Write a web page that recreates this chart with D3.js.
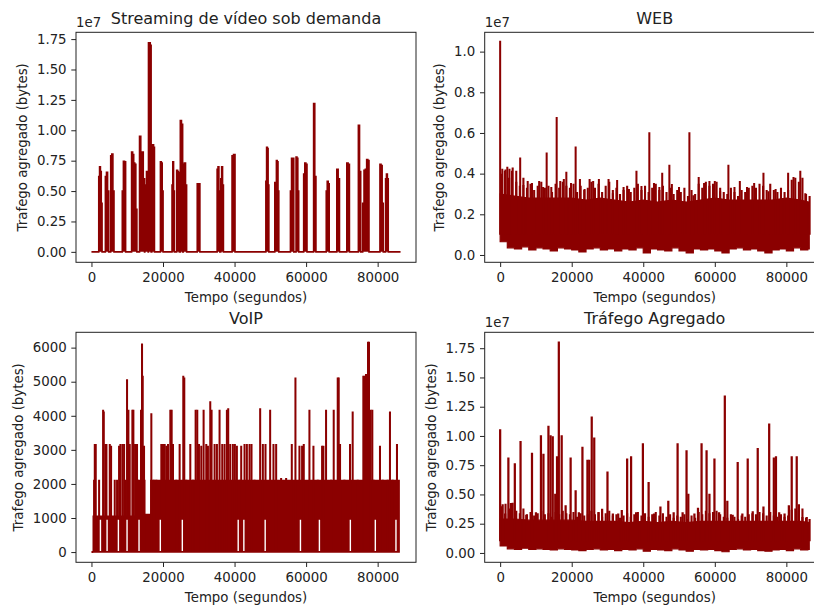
<!DOCTYPE html>
<html>
<head>
<meta charset="utf-8">
<script src="https://cdn.jsdelivr.net/npm/d3@7"></script>
<style>
body{margin:0;background:#fff}
svg text{font-family:"DejaVu Sans",sans-serif;fill:#222}
</style>
</head>
<body>
<svg id="chart" width="814" height="606"></svg>
<script>
const xDomain = [-4320, 90720]
const xTicks = [0, 20000, 40000, 60000, 80000]
const tEnd = 86400

// streaming: [inicio, fim, niveis]
const streamBursts = [
  [2040, 2970, [0.62e7, 0.70e7, 0.66e7, 0.40e7]],
  [3890, 4820, [0.62e7, 0.655e7, 0.50e7]],
  [5380, 6300, [0.79e7, 0.805e7, 0.50e7]],
  [8620, 9550, [0.50e7, 0.745e7, 0.74e7]],
  [11220, 12700, [0.82e7, 0.80e7, 0.73e7, 0.72e7, 0.35e7]],
  [13440, 14830, [0.95e7, 0.82e7, 0.82e7, 0.60e7]],
  [14920, 15850, [0.35e7, 0.55e7, 0.66e7, 0.66e7]],
  [15940, 16680, [1.72e7, 1.72e7, 1.70e7]],
  [16870, 17610, [0.88e7, 0.88e7, 0.86e7]],
  [19280, 20020, [0.74e7, 0.73e7, 0.50e7]],
  [22520, 23170, [0.55e7, 0.74e7, 0.50e7]],
  [23820, 24560, [0.67e7, 0.66e7, 0.65e7]],
  [24840, 25490, [1.08e7, 1.05e7]],
  [25680, 26600, [0.72e7, 0.73e7, 0.55e7]],
  [29570, 30310, [0.56e7, 0.56e7]],
  [35130, 35870, [0.68e7, 0.70e7, 0.50e7]],
  [36150, 36890, [0.60e7, 0.70e7, 0.55e7]],
  [39300, 40130, [0.79e7, 0.80e7]],
  [48750, 49590, [0.58e7, 0.86e7, 0.85e7, 0.55e7]],
  [51250, 52370, [0.57e7, 0.56e7, 0.75e7, 0.74e7, 0.50e7]],
  [55620, 56550, [0.50e7, 0.77e7, 0.77e7]],
  [57190, 57930, [0.78e7, 0.77e7, 0.50e7]],
  [59320, 60250, [0.64e7, 0.73e7, 0.72e7]],
  [62100, 62750, [1.22e7, 0.62e7]],
  [65630, 66460, [0.50e7, 0.58e7, 0.56e7]],
  [68590, 69330, [0.68e7, 0.60e7]],
  [71370, 72110, [0.73e7, 0.72e7]],
  [74610, 75260, [1.04e7, 0.66e7]],
  [75820, 76930, [0.40e7, 0.67e7, 0.68e7]],
  [76930, 77580, [0.76e7, 0.75e7]],
  [80640, 81570, [0.72e7, 0.71e7, 0.40e7]],
  [82220, 82960, [0.60e7, 0.64e7, 0.60e7]]
]

// WEB (unidades de 1e7): topo da parte cheia, franja a cada 1000 s, base a cada 2000 s
const webSolidTop = [
  [0, 0.30], [4000, 0.29], [8000, 0.28], [12000, 0.28], [16000, 0.28],
  [20000, 0.28], [24000, 0.27], [28000, 0.28], [32000, 0.27], [36000, 0.26],
  [40000, 0.27], [44000, 0.26], [48000, 0.27], [52000, 0.26], [56000, 0.27],
  [60000, 0.28], [64000, 0.27], [68000, 0.27], [72000, 0.27], [76000, 0.27],
  [80000, 0.28], [84000, 0.27], [86400, 0.26]
]
const webRidge = [
  0.40, 0.42, 0.38, 0.43, 0.36, 0.34, 0.38, 0.33, 0.35, 0.32, 0.34, 0.36, 0.33,
  0.34, 0.31, 0.35, 0.33, 0.36, 0.34, 0.33, 0.35, 0.31, 0.34, 0.32, 0.33,
  0.36, 0.33, 0.35, 0.31, 0.34, 0.36, 0.32, 0.33, 0.30, 0.32, 0.34, 0.31, 0.33, 0.35,
  0.32, 0.34, 0.31, 0.33, 0.35, 0.32, 0.34, 0.31, 0.33, 0.30, 0.32, 0.31, 0.33, 0.29, 0.32, 0.30,
  0.35, 0.33, 0.36, 0.34, 0.35, 0.36, 0.33, 0.31, 0.30, 0.33, 0.31, 0.29, 0.32, 0.31, 0.33,
  0.34, 0.33, 0.35, 0.34, 0.32, 0.35, 0.32, 0.31, 0.33, 0.31, 0.32,
  0.37, 0.38, 0.36, 0.38, 0.30, 0.29
]
const webLow = [
  0.065, 0.035, 0.03, 0.04, 0.025, 0.035, 0.03, 0.02, 0.035, 0.03, 0.025, 0.015,
  0.03, 0.035, 0.025, 0.03, 0.02, 0.03, 0.025, 0.035, 0.01, 0.03, 0.025, 0.02,
  0.035, 0.02, 0.01, 0.03, 0.025, 0.03, 0.02, 0.01, 0.03, 0.035, 0.025, 0.03,
  0.02, 0.01, 0.025, 0.03, 0.02, 0.035, 0.025, 0.03
]
const webPeaks = [
  [0, 1.05], [600, 0.42], [1300, 0.41], [2000, 0.43], [2600, 0.42], [3300, 0.41],
  [4500, 0.41], [5600, 0.475], [6500, 0.34], [7700, 0.36], [8900, 0.35],
  [10900, 0.36], [12000, 0.33], [13000, 0.50], [14300, 0.33], [15800, 0.675],
  [16800, 0.36], [17800, 0.37], [18500, 0.405], [19800, 0.35], [21100, 0.53],
  [22300, 0.37], [23600, 0.32], [25000, 0.37], [26000, 0.36], [27600, 0.37],
  [30300, 0.37], [31500, 0.30], [32700, 0.365], [34500, 0.33], [36000, 0.32],
  [38100, 0.41], [39500, 0.335], [41700, 0.60], [43000, 0.35], [44500, 0.33],
  [45300, 0.40], [47300, 0.44], [48000, 0.345], [50000, 0.33], [52900, 0.60],
  [54000, 0.29], [55500, 0.38], [57000, 0.35], [58500, 0.36], [60000, 0.36],
  [61500, 0.31], [63800, 0.44], [65500, 0.33], [67000, 0.36], [69000, 0.33],
  [71000, 0.35], [73600, 0.40], [75000, 0.31], [77000, 0.32], [78500, 0.31],
  [80500, 0.40], [82000, 0.38], [83900, 0.41], [85300, 0.30]
]

// VoIP (bytes): nivel da faixa cheia, lacunas e picos
const voipBand = [
  [500, 1050], [13300, 1050], [13300, 2100], [14900, 2100], [14900, 1100],
  [16600, 1100], [16600, 2100], [86000, 2100]
]
const voipGaps = [2510, 4370, 7530, 9950, 13300, 19250, 25400, 41020, 42600, 48560, 58420, 63720, 72370, 79350, 85120]
const voipPeaks = [
  [740, 2100], [930, 3150], [1200, 3150], [2140, 2100], [3260, 4150], [3440, 4100],
  [3900, 3150], [4190, 3150], [5120, 3150], [5490, 3100], [6510, 2100], [7160, 2100],
  [7720, 3100], [8090, 3150], [8650, 3150], [9120, 3150], [9580, 2100], [9950, 5050],
  [10330, 4150], [10700, 3150], [11440, 4150], [11720, 4150], [12190, 3150], [12740, 3150],
  [13020, 2100], [13860, 4150], [14140, 6100], [14330, 5150], [14700, 3100], [16740, 4050],
  [17400, 2100], [18140, 2100], [19530, 3150], [20000, 3150], [20470, 3150], [20930, 3100],
  [21400, 3150], [22050, 4150], [22420, 4150], [22790, 3150], [23720, 2100], [24650, 3150],
  [25670, 5150], [25950, 5100], [26510, 2100], [27630, 3150], [28370, 2100], [29120, 4150],
  [29580, 4150], [30050, 3150], [30700, 3100], [31350, 4150], [32090, 3150], [32560, 3100],
  [33210, 4400], [33580, 4150], [34420, 3150], [35070, 3150], [35810, 4150], [36560, 3150],
  [37210, 3150], [37860, 4150], [38230, 4200], [38790, 3150], [39530, 3150], [40090, 3150],
  [40650, 3100], [41400, 2100], [41860, 3100], [42790, 3150], [43440, 3150], [44190, 3150],
  [44740, 3150], [45580, 2100], [47160, 4200], [47910, 3150], [48650, 3150], [49950, 4150],
  [50880, 3150], [51630, 3150], [53020, 2150], [54420, 2150], [56000, 3150], [57020, 5100],
  [58140, 3100], [58880, 3100], [59350, 3150], [60930, 4150], [62050, 3100], [63260, 2100],
  [64470, 3100], [64840, 3100], [65580, 4150], [66980, 2100], [67720, 4150], [68840, 5100],
  [69120, 5100], [69490, 3150], [70700, 2100], [72280, 3150], [73020, 4100], [74420, 2100],
  [76000, 5150], [76370, 5150], [76740, 5200], [77300, 6150], [77580, 6150], [78050, 4150],
  [78510, 4150], [78880, 2100], [80650, 3100], [81400, 2100], [82790, 2100], [83440, 4100],
  [84190, 2100], [85400, 3150]
]

// Trafego agregado (unidades de 1e7); fora das rajadas segue a mesma franja do WEB
const aggSolidTop = [
  [0, 0.29], [4000, 0.29], [8000, 0.28], [12000, 0.28], [16000, 0.28],
  [20000, 0.28], [24000, 0.27], [28000, 0.27], [32000, 0.27], [36000, 0.26],
  [40000, 0.27], [44000, 0.26], [48000, 0.27], [52000, 0.26], [56000, 0.27],
  [60000, 0.27], [64000, 0.27], [68000, 0.27], [72000, 0.27], [76000, 0.27],
  [80000, 0.27], [84000, 0.27], [86400, 0.26]
]
const aggLow = [
  0.06, 0.035, 0.03, 0.04, 0.03, 0.035, 0.03, 0.025, 0.035, 0.03, 0.025, 0.02,
  0.03, 0.035, 0.025, 0.03, 0.02, 0.03, 0.025, 0.035, 0.015, 0.03, 0.025, 0.02,
  0.035, 0.025, 0.015, 0.03, 0.025, 0.03, 0.02, 0.01, 0.03, 0.035, 0.025, 0.03,
  0.02, 0.015, 0.025, 0.03, 0.02, 0.035, 0.025, 0.03
]
const aggPeaks = [
  [0, 1.05], [700, 0.41], [1400, 0.33], [2300, 0.81], [3000, 0.42], [4100, 0.76],
  [5700, 0.95], [7300, 0.32], [8900, 0.85], [10000, 0.34], [11400, 1.00], [12100, 0.84],
  [13500, 1.08], [14100, 1.00], [14700, 0.99], [15400, 0.50], [15900, 0.82], [16400, 1.80],
  [17200, 1.00], [18300, 0.40], [19700, 0.81], [21100, 0.53], [22000, 0.34], [23000, 0.90],
  [24400, 0.79], [24900, 0.79], [25600, 1.16], [26300, 0.98], [27500, 0.34], [28500, 0.37],
  [30000, 0.69], [31500, 0.33], [33000, 0.33], [34000, 0.36], [35500, 0.80], [36600, 0.82],
  [38000, 0.34], [39900, 0.93], [41500, 0.60], [43000, 0.33], [44800, 0.39], [47000, 0.44],
  [48500, 0.34], [49600, 0.93], [51000, 0.34], [52100, 0.87], [52600, 0.50], [54300, 0.33],
  [55300, 0.38], [56300, 0.93], [57700, 0.87], [58500, 0.50], [59900, 0.80], [61200, 0.34],
  [62800, 1.34], [63500, 0.44], [65000, 0.32], [66400, 0.77], [67700, 0.33], [69200, 0.80],
  [70600, 0.35], [72000, 0.89], [73600, 0.39], [75200, 1.10], [76500, 0.81], [77100, 0.82],
  [78000, 0.34], [79500, 0.33], [80700, 0.40], [81500, 0.82], [82900, 0.82], [83500, 0.41],
  [84500, 0.30], [85700, 0.30]
]

const red = "#8b0000"
const W = 340, H = 230
const svg = d3.select("#chart")

// valores amostrados a passo fixo -> pontos em degrau
function stepPts(values, step) {
  let pts = []
  values.forEach((v, i) => {
    const t0 = i * step, t1 = Math.min((i + 1) * step, tEnd)
    pts.push([t0, v], [t1, v])
  })
  return pts
}

function drawBand(plot, x, y, top, lowValues) {
  const bottom = stepPts(lowValues, 2000)
  const pts = top.concat(bottom.slice().reverse())
  plot.append("path")
    .attr("d", d3.line().x(d => x(d[0])).y(d => y(d[1] * 1e7))(pts) + "Z")
    .attr("fill", red).attr("stroke", red).attr("stroke-width", 1.2)
}

function drawPeaks(plot, x, y, peaks, base, half, width) {
  const line = d3.line().x(d => x(d[0])).y(d => y(d[1]))
  plot.selectAll(null).data(peaks).enter().append("path")
    .attr("d", p => line([[p[0] - half, base], [p[0] - half, p[1]], [p[0] + half, p[1]], [p[0] + half, base]]))
    .attr("fill", "none").attr("stroke", red).attr("stroke-width", width)
}

function drawRidge(plot, x, y, values) {
  plot.selectAll(null).data(values).enter().append("line")
    .attr("x1", (d, i) => x(i * 1000 + 500)).attr("x2", (d, i) => x(i * 1000 + 500))
    .attr("y1", y(0.1e7)).attr("y2", d => y(d * 1e7))
    .attr("stroke", red).attr("stroke-width", 2.1)
}

function drawStream(plot, x, y) {
  let pts = [[0, 0]]
  for (const b of streamBursts) {
    const dt = (b[1] - b[0]) / b[2].length
    b[2].forEach((v, i) => {
      const ta = b[0] + i * dt, tb = ta + dt
      pts.push([ta, 0], [ta, v], [tb, v], [tb, 0])
    })
  }
  pts.push([tEnd, 0])
  plot.append("path")
    .attr("d", d3.line().x(d => x(d[0])).y(d => y(d[1]))(pts))
    .attr("fill", "none").attr("stroke", red).attr("stroke-width", 1.6)
}

function drawWeb(plot, x, y) {
  drawBand(plot, x, y, webSolidTop, webLow)
  drawRidge(plot, x, y, webRidge)
  drawPeaks(plot, x, y, webPeaks.map(p => [p[0], p[1] * 1e7]), 0.1e7, 60, 1.6)
}

function drawVoip(plot, x, y) {
  const line = d3.line().x(d => x(d[0])).y(d => y(d[1]))
  plot.append("path").attr("d", line([[0, 0], [500, 0]]))
    .attr("stroke", red).attr("stroke-width", 2).attr("fill", "none")
  const pts = [[500, 0]].concat(voipBand, [[86000, 0]])
  plot.append("path").attr("d", line(pts) + "Z")
    .attr("fill", red).attr("stroke", red).attr("stroke-width", 1.5)
  drawPeaks(plot, x, y, voipPeaks, 0, 60, 1.6)
  plot.selectAll(null).data(voipGaps).enter().append("line")
    .attr("x1", d => x(d)).attr("x2", d => x(d))
    .attr("y1", y(30)).attr("y2", y(950))
    .attr("stroke", "#fff").attr("stroke-width", 1.4)
}

function drawAgg(plot, x, y) {
  drawBand(plot, x, y, aggSolidTop, aggLow)
  drawRidge(plot, x, y, webRidge)
  drawPeaks(plot, x, y, aggPeaks.map(p => [p[0], p[1] * 1e7]), 0.1e7, 90, 1.6)
}

function drawPanel(cfg) {
  const g = svg.append("g").attr("transform", `translate(${cfg.left},${cfg.top})`)
  const x = d3.scaleLinear().domain(xDomain).range([0, W])
  const y = d3.scaleLinear().domain(cfg.yDomain).range([H, 0])

  g.append("clipPath").attr("id", "clip-" + cfg.id)
    .append("rect").attr("width", W).attr("height", H)
  const plot = g.append("g").attr("clip-path", `url(#clip-${cfg.id})`)
  cfg.draw(plot, x, y)

  const xa = g.append("g").attr("transform", `translate(0,${H})`)
    .call(d3.axisBottom(x).tickValues(xTicks).tickSize(4.7).tickPadding(6).tickFormat(d3.format("d")))
  const ya = g.append("g")
    .call(d3.axisLeft(y).tickValues(cfg.yTicks).tickSize(4.7).tickPadding(4.7).tickFormat(cfg.yFmt))
  for (const a of [xa, ya]) {
    a.select(".domain").remove()
    a.selectAll("line").attr("stroke", "#222").attr("stroke-width", 1)
    a.selectAll("text").attr("font-size", "13.33px").attr("fill", "#222").attr("font-family", "DejaVu Sans, sans-serif")
  }

  g.append("rect").attr("width", W).attr("height", H)
    .attr("fill", "none").attr("stroke", "#222").attr("stroke-width", 1)

  g.append("text").attr("x", W / 2).attr("y", -8).attr("text-anchor", "middle")
    .attr("font-size", "16px").text(cfg.title)
  g.append("text").attr("x", W / 2).attr("y", H + 39.5).attr("text-anchor", "middle")
    .attr("font-size", "13.33px").text("Tempo (segundos)")
  g.append("text").attr("transform", `translate(${cfg.ylabelX},${H / 2}) rotate(-90)`)
    .attr("text-anchor", "middle").attr("font-size", "13.33px").text("Trafego agregado (bytes)")
  if (cfg.offset) {
    g.append("text").attr("x", 0).attr("y", -5.5).attr("font-size", "13.33px").text(cfg.offset)
  }
}

const fmt2 = d3.format(".2f"), fmt1 = d3.format(".1f"), fmt0 = d3.format("d")

drawPanel({id: "stream", left: 76, top: 32.3, title: "Streaming de vídeo sob demanda",
  yDomain: [-0.086e7, 1.806e7], yTicks: d3.range(0, 1.8e7, 0.25e7), yFmt: d => fmt2(d / 1e7),
  offset: "1e7", ylabelX: -49, draw: drawStream})
drawPanel({id: "web", left: 484.7, top: 32.3, title: "WEB",
  yDomain: [-0.036e7, 1.095e7], yTicks: d3.range(0, 1.05e7, 0.2e7), yFmt: d => fmt1(d / 1e7),
  offset: "1e7", ylabelX: -41, draw: drawWeb})
drawPanel({id: "voip", left: 76, top: 332.3, title: "VoIP",
  yDomain: [-300, 6450], yTicks: d3.range(0, 6001, 1000), yFmt: fmt0,
  offset: null, ylabelX: -53, draw: drawVoip})
drawPanel({id: "agg", left: 484.7, top: 332.3, title: "Tráfego Agregado",
  yDomain: [-0.08e7, 1.886e7], yTicks: d3.range(0, 1.8e7, 0.25e7), yFmt: d => fmt2(d / 1e7),
  offset: "1e7", ylabelX: -49, draw: drawAgg})
</script>
</body>
</html>
